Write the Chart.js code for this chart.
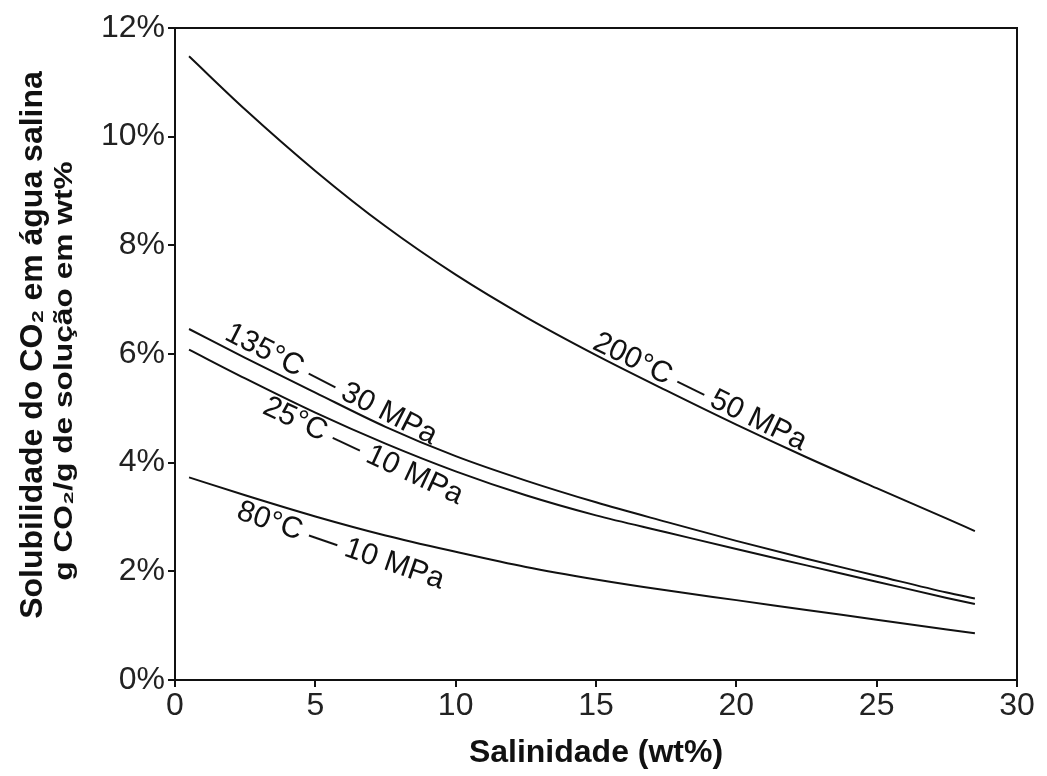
<!DOCTYPE html>
<html>
<head>
<meta charset="utf-8">
<script src="https://cdn.jsdelivr.net/npm/chart.js@4/dist/chart.umd.min.js"></script>
<style>
  html, body { margin: 0; padding: 0; background: #fff; }
  #wrap { width: 1047px; height: 776px; }
</style>
</head>
<body>
<div id="wrap"><canvas id="chart" width="1047" height="776"></canvas></div>
<script>
// Salinidade (wt%) nos pontos lidos
const salinity = [0.5, 2.5, 5, 7.5, 10, 12.5, 15, 17.5, 20, 22.5, 25, 27.5, 28.5];

// Solubilidade do CO2 (%) por curva
const sol200c50 = [11.48, 10.5, 9.37, 8.35, 7.46, 6.68, 5.98, 5.33, 4.7, 4.1, 3.53, 2.97, 2.74];
const sol135c30 = [6.46, 5.93, 5.29, 4.66, 4.12, 3.67, 3.27, 2.91, 2.56, 2.23, 1.92, 1.61, 1.5];
const sol25c10 = [6.08, 5.55, 4.92, 4.35, 3.84, 3.4, 3.03, 2.72, 2.41, 2.11, 1.81, 1.51, 1.4];
const sol80c10 = [3.73, 3.4, 3.01, 2.66, 2.36, 2.08, 1.85, 1.65, 1.47, 1.29, 1.11, 0.93, 0.86];

const seriesNames = ['200°C — 50 MPa', '135°C — 30 MPa', '25°C — 10 MPa', '80°C — 10 MPa'];
const seriesValues = [sol200c50, sol135c30, sol25c10, sol80c10];

const yTicks = [0, 2, 4, 6, 8, 10, 12];
const xTicks = [0, 5, 10, 15, 20, 25, 30];

// Rótulos das curvas (posição em unidades dos eixos)
const curveLabels = [
    { text: seriesNames[0], x: 18.7, y: 5.3, angle: 26 },
    { text: seriesNames[1], x: 5.56, y: 5.44, angle: 27 },
    { text: seriesNames[2], x: 6.7, y: 4.21, angle: 25 },
    { text: seriesNames[3], x: 5.9, y: 2.47, angle: 19 }
];

const FONT = "'Liberation Sans', Arial, sans-serif";

const datasets = seriesValues.map((vals, i) => ({
    label: seriesNames[i],
    data: vals.map((v, j) => ({ x: salinity[j], y: v })),
    borderColor: '#111',
    borderWidth: 2,
    pointRadius: 0,
    fill: false,
    cubicInterpolationMode: 'monotone'
}));

// Moldura, rótulos das curvas e títulos dos eixos
const decorPlugin = {
    id: 'decor',
    afterDatasetsDraw(chart) {
        const ctx = chart.ctx;
        const area = chart.chartArea;
        const xs = chart.scales.x;
        const ys = chart.scales.y;

        ctx.save();
        ctx.strokeStyle = '#111';
        ctx.lineWidth = 2;
        ctx.strokeRect(area.left, area.top, area.right - area.left, area.bottom - area.top);

        ctx.fillStyle = '#111';
        ctx.font = '30px ' + FONT;
        ctx.textAlign = 'center';
        ctx.textBaseline = 'middle';
        curveLabels.forEach(l => {
            ctx.save();
            ctx.translate(xs.getPixelForValue(l.x), ys.getPixelForValue(l.y));
            ctx.rotate(l.angle * Math.PI / 180);
            ctx.fillText(l.text, 0, 0);
            ctx.restore();
        });

        // título do eixo x
        ctx.font = 'bold 32px ' + FONT;
        ctx.fillText('Salinidade (wt%)', (area.left + area.right) / 2, 753);

        // título do eixo y (duas linhas)
        ctx.save();
        ctx.translate(33, 345);
        ctx.rotate(-Math.PI / 2);
        ctx.font = 'bold 32px ' + FONT;
        ctx.fillText('Solubilidade do CO₂ em água salina', 0, 0);
        ctx.restore();

        ctx.save();
        ctx.translate(65, 371);
        ctx.rotate(-Math.PI / 2);
        ctx.scale(1.22, 1);
        ctx.font = 'bold 26px ' + FONT;
        ctx.fillText('g CO₂/g de solução em wt%', 0, 0);
        ctx.restore();

        ctx.restore();
    }
};

new Chart(document.getElementById('chart'), {
    type: 'line',
    data: { datasets: datasets },
    options: {
        responsive: false,
        animation: false,
        layout: { padding: { top: 28, right: 30, left: 0, bottom: 0 } },
        plugins: {
            legend: { display: false },
            tooltip: { enabled: false }
        },
        scales: {
            x: {
                type: 'linear',
                min: 0,
                max: 30,
                afterBuildTicks: scale => { scale.ticks = xTicks.map(v => ({ value: v })); },
                afterFit: scale => { scale.height = 96; },
                grid: { drawOnChartArea: false, drawTicks: true, tickLength: 7, color: '#111', lineWidth: 2 },
                border: { display: true, color: '#111', width: 2 },
                ticks: { color: '#222', font: { family: FONT, size: 32 }, padding: 0, maxRotation: 0 }
            },
            y: {
                min: 0,
                max: 12,
                afterBuildTicks: scale => { scale.ticks = yTicks.map(v => ({ value: v })); },
                afterFit: scale => { scale.width = 175; },
                grid: { drawOnChartArea: false, drawTicks: true, tickLength: 7, color: '#111', lineWidth: 2 },
                border: { display: true, color: '#111', width: 2 },
                ticks: {
                    color: '#222',
                    font: { family: FONT, size: 32 },
                    padding: 3,
                    callback: v => v + '%'
                }
            }
        }
    },
    plugins: [decorPlugin]
});
</script>
</body>
</html>
